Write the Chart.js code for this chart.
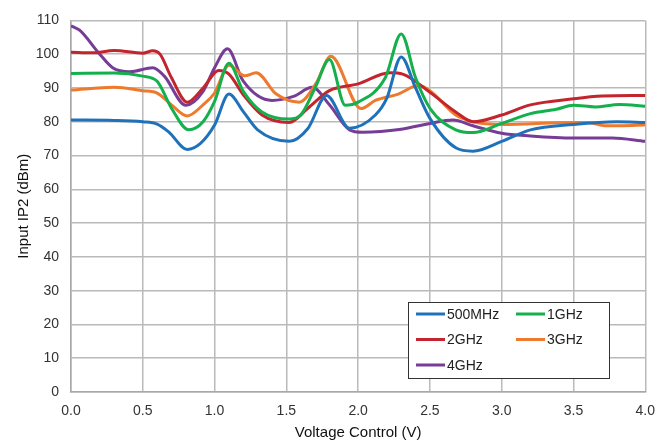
<!DOCTYPE html>
<html>
<head>
<meta charset="utf-8">
<script src="https://cdn.jsdelivr.net/npm/chart.js@4"></script>
<style>
  html, body { margin: 0; padding: 0; background: #fff; }
  #wrap { width: 666px; height: 444px; }
</style>
</head>
<body>
<div id="wrap"><canvas id="ip2Chart"></canvas></div>
<script>
// Input IP2 vs voltage control
const volts500M = [0.0, 0.3, 0.5, 0.6, 0.68, 0.81, 0.9, 1.0, 1.1, 1.2, 1.3, 1.52, 1.65, 1.78, 1.94, 2.12, 2.2, 2.3, 2.4, 2.5, 2.68, 2.8, 3.0, 3.2, 3.5, 3.8, 4.0];
const ip2_500M = [80.5, 80.4, 80.0, 79.3, 77.0, 71.8, 73.5, 79.0, 88.2, 83.0, 77.6, 74.2, 78.0, 87.8, 78.1, 82.0, 87.0, 99.2, 90.0, 81.0, 72.3, 71.3, 74.2, 77.6, 79.2, 80.0, 79.8];

const volts1G = [0.0, 0.3, 0.5, 0.6, 0.7, 0.82, 0.92, 1.0, 1.1, 1.2, 1.33, 1.52, 1.6, 1.7, 1.8, 1.91, 2.0, 2.19, 2.3, 2.4, 2.5, 2.68, 2.8, 3.0, 3.2, 3.38, 3.5, 3.65, 3.82, 4.0];
const ip2_1G = [94.3, 94.4, 93.5, 92.0, 84.0, 77.6, 80.0, 86.0, 97.3, 89.0, 82.9, 80.8, 82.0, 90.0, 98.4, 84.9, 85.8, 93.1, 106.0, 93.0, 84.0, 77.6, 76.8, 79.5, 82.4, 83.7, 84.9, 84.4, 85.1, 84.6];

const volts2G = [0.0, 0.15, 0.3, 0.5, 0.57, 0.62, 0.7, 0.81, 0.92, 1.03, 1.1, 1.2, 1.33, 1.52, 1.65, 1.8, 2.0, 2.22, 2.31, 2.5, 2.68, 2.8, 3.0, 3.2, 3.5, 3.7, 4.0];
const ip2_2G = [100.6, 100.4, 101.1, 100.3, 101.0, 100.0, 93.0, 85.8, 90.0, 95.2, 94.1, 88.0, 82.0, 79.8, 84.0, 89.2, 91.2, 94.5, 94.1, 88.7, 82.9, 80.0, 82.0, 85.0, 86.8, 87.6, 87.8];

const volts3G = [0.0, 0.3, 0.5, 0.6, 0.7, 0.81, 0.92, 1.0, 1.1, 1.21, 1.29, 1.43, 1.59, 1.71, 1.81, 2.02, 2.12, 2.28, 2.42, 2.5, 2.68, 2.8, 3.0, 3.5, 3.6, 3.72, 4.0];
const ip2_3G = [89.4, 90.2, 89.2, 88.5, 85.0, 81.7, 85.0, 88.5, 96.7, 93.6, 94.5, 88.2, 85.8, 91.6, 99.4, 83.9, 86.3, 88.2, 90.7, 89.2, 82.0, 80.0, 79.2, 79.8, 79.8, 78.8, 79.0];

const volts4G = [0.0, 0.06, 0.2, 0.29, 0.41, 0.57, 0.65, 0.8, 0.92, 1.0, 1.09, 1.2, 1.4, 1.55, 1.68, 1.8, 1.94, 2.03, 2.3, 2.5, 2.66, 2.8, 3.0, 3.2, 3.5, 3.77, 4.0];
const ip2_4G = [108.4, 107.1, 100.0, 96.0, 94.8, 96.0, 93.5, 84.9, 89.0, 96.0, 101.6, 92.0, 86.3, 87.5, 90.2, 85.0, 77.6, 76.9, 77.8, 79.5, 80.5, 78.8, 76.6, 75.8, 75.2, 75.2, 74.2];

const seriesLabels = ["500MHz", "1GHz", "2GHz", "3GHz", "4GHz"];
const seriesColors = ["#1f72ba", "#14b04c", "#c2252d", "#ee7a2e", "#773d96"];
const seriesVolts = [volts500M, volts1G, volts2G, volts3G, volts4G];
const seriesValues = [ip2_500M, ip2_1G, ip2_2G, ip2_3G, ip2_4G];

const xTicks = [0, 0.5, 1, 1.5, 2, 2.5, 3, 3.5, 4];
const FONT = "'Liberation Sans', Arial, sans-serif";

function toPoints(xs, ys) {
  return xs.map((x, i) => ({ x: x, y: ys[i] }));
}

// legend drawn inside the plot, two columns like the original
const boxLegend = {
  id: "boxLegend",
  afterDatasetsDraw(chart) {
    const c = chart.ctx;
    const left = 408, top = 302, w = 201, h = 76;
    c.save();
    c.fillStyle = "#fff";
    c.fillRect(left, top, w, h);
    c.strokeStyle = "#333";
    c.lineWidth = 1;
    c.strokeRect(left + 0.5, top + 0.5, w, h);
    c.font = "14px " + FONT;
    c.textBaseline = "middle";
    chart.data.datasets.forEach((ds, i) => {
      const col = i % 2, row = Math.floor(i / 2);
      const x = left + 8 + col * 100;
      const y = top + 12 + row * 25.5;
      c.strokeStyle = ds.borderColor;
      c.lineWidth = 3;
      c.beginPath();
      c.moveTo(x, y);
      c.lineTo(x + 29, y);
      c.stroke();
      c.fillStyle = "#222";
      c.fillText(ds.label, x + 31, y + 1);
    });
    c.restore();
  }
};

new Chart(document.getElementById("ip2Chart"), {
  type: "line",
  data: {
    datasets: seriesLabels.map((label, i) => ({
      label: label,
      data: toPoints(seriesVolts[i], seriesValues[i]),
      borderColor: seriesColors[i],
      backgroundColor: seriesColors[i],
      borderWidth: 3,
      pointRadius: 0,
      fill: false,
      cubicInterpolationMode: "monotone"
    }))
  },
  options: {
    responsive: true,
    maintainAspectRatio: false,
    animation: false,
    layout: { padding: { top: 13, right: 20, left: 0, bottom: 0 } },
    plugins: { legend: { display: false }, tooltip: { enabled: false } },
    scales: {
      x: {
        type: "linear",
        min: 0, max: 4,
        afterFit: s => { s.height = 52; },
        afterBuildTicks: s => { s.ticks = xTicks.map(v => ({ value: v })); },
        grid: { color: "#bababa", lineWidth: 1.5, drawTicks: false },
        border: { color: "#a8a8a8", width: 1.5 },
        ticks: {
          padding: 11,
          color: "#333",
          font: { family: FONT, size: 14 },
          callback: v => v.toFixed(1)
        },
        title: {
          display: true,
          text: "Voltage Control (V)",
          color: "#111",
          font: { family: FONT, size: 15 },
          padding: { top: 4, bottom: 2 }
        }
      },
      y: {
        min: 0, max: 110,
        afterFit: s => { s.width = 71; },
        grid: { color: "#bababa", lineWidth: 1.5, drawTicks: false },
        border: { color: "#a8a8a8", width: 1.5 },
        ticks: {
          stepSize: 10,
          padding: 12,
          color: "#333",
          font: { family: FONT, size: 14 }
        },
        title: {
          display: true,
          text: "Input IP2 (dBm)",
          color: "#111",
          font: { family: FONT, size: 15 },
          padding: { top: 15, bottom: 4 }
        }
      }
    }
  },
  plugins: [boxLegend]
});
</script>
</body>
</html>
